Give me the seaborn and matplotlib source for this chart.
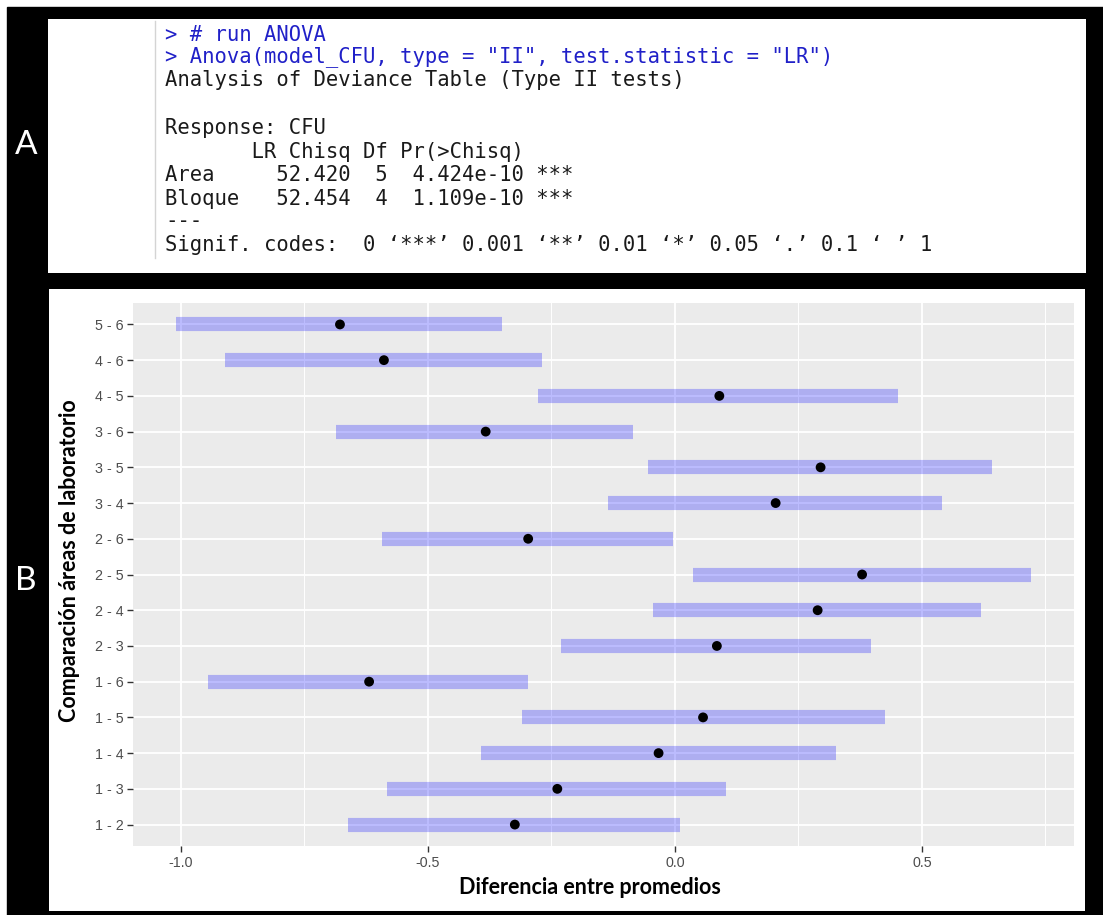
import matplotlib
matplotlib.use("Agg")
import matplotlib.pyplot as plt
from matplotlib.patches import Rectangle
import pandas as pd
import seaborn as sns

# Comparaciones de Tukey (de abajo hacia arriba, como en ggplot)
comparaciones = ["1 - 2", "1 - 3", "1 - 4", "1 - 5", "1 - 6",
                 "2 - 3", "2 - 4", "2 - 5", "2 - 6",
                 "3 - 4", "3 - 5", "3 - 6",
                 "4 - 5", "4 - 6", "5 - 6"]
diferencia = [-0.324, -0.238, -0.033, 0.057, -0.619,
              0.085, 0.289, 0.379, -0.297,
              0.204, 0.295, -0.383,
              0.090, -0.589, -0.678]
limite_inf = [-0.661, -0.582, -0.393, -0.310, -0.945,
              -0.231, -0.044, 0.036, -0.592,
              -0.135, -0.055, -0.686,
              -0.277, -0.910, -1.010]
limite_sup = [0.011, 0.103, 0.327, 0.425, -0.298,
              0.397, 0.620, 0.721, -0.003,
              0.541, 0.641, -0.084,
              0.452, -0.268, -0.350]

xticks = [-1.0, -0.5, 0.0, 0.5]
xticks_menores = [-0.75, -0.25, 0.25, 0.75]

# Salida de la consola de R
lineas_consola = [
    ("> # run ANOVA", "#2020C8", 35),
    ('> Anova(model_CFU, type = "II", test.statistic = "LR")', "#2020C8", 57),
    ("Analysis of Deviance Table (Type II tests)", "#1a1a1a", 80),
    ("Response: CFU", "#1a1a1a", 128),
    ("       LR Chisq Df Pr(>Chisq)", "#1a1a1a", 152),
    ("Area     52.420  5  4.424e-10 ***", "#1a1a1a", 175),
    ("Bloque   52.454  4  1.109e-10 ***", "#1a1a1a", 199),
    ("---", "#1a1a1a", 221),
    ("Signif. codes:  0 \u2018***\u2019 0.001 \u2018**\u2019 0.01 \u2018*\u2019 0.05 \u2018.\u2019 0.1 \u2018 \u2019 1", "#1a1a1a", 245),
]

df = pd.DataFrame({"comp": comparaciones, "diff": diferencia,
                   "lwr": limite_inf, "upr": limite_sup})

W, H = 1103, 915
fig = plt.figure(figsize=(W / 100, H / 100), dpi=100, facecolor="white")


def caja(x0, y0, x1, y1):
    # rect en pixeles (origen arriba a la izquierda) -> coords de figura
    return [x0 / W, 1 - y1 / H, (x1 - x0) / W, (y1 - y0) / H]


fig.add_artist(Rectangle((7 / W, 0), 1 - 7 / W, 1 - 7 / H,
                         transform=fig.transFigure, color="black", zorder=0))

# Panel A
axA = fig.add_axes(caja(48, 19, 1086, 273))
axA.set_facecolor("white")
axA.set_xlim(0, 1086 - 48)
axA.set_ylim(273 - 19, 0)
axA.set_xticks([])
axA.set_yticks([])
for s in axA.spines.values():
    s.set_visible(False)
axA.plot([155 - 48, 155 - 48], [2, 239], color="#d4d4d4", lw=1)
for texto, color, y in lineas_consola:
    axA.text(165 - 48, y - 19, texto, color=color, fontsize=14.8,
             family=["DejaVu Sans Mono"], va="center", ha="left")

# Panel B (fondo blanco)
axB_fondo = fig.add_axes(caja(49, 289, 1085, 911))
axB_fondo.set_facecolor("white")
axB_fondo.set_xticks([])
axB_fondo.set_yticks([])
for s in axB_fondo.spines.values():
    s.set_visible(False)

fig.text(26 / W, 1 - 145 / H, "A", color="white", fontsize=24,
         family=["Lato", "DejaVu Sans"], ha="center", va="center")
fig.text(26 / W, 1 - 581 / H, "B", color="white", fontsize=24,
         family=["Lato", "DejaVu Sans"], ha="center", va="center")

# Grafico de intervalos estilo ggplot
ax = fig.add_axes(caja(133, 303, 1074, 846))
ax.set_facecolor("#EBEBEB")
ax.hlines(y=df["comp"], xmin=df["lwr"], xmax=df["upr"],
          color=(0, 0, 1, 0.26), lw=10.2, zorder=2)
sns.scatterplot(data=df, x="diff", y="comp", color="black", s=50,
                edgecolor="none", ax=ax, zorder=3)

ax.set_xlim(-1.097, 0.808)
ax.set_ylim(-0.6, len(comparaciones) - 0.4)
ax.set_xticks(xticks)
ax.set_xticklabels([f"{t:.1f}" for t in xticks])
ax.set_xticks(xticks_menores, minor=True)
ax.grid(which="major", color="white", lw=1.3, zorder=0)
ax.grid(which="minor", axis="x", color="white", lw=0.7, zorder=0)
ax.set_axisbelow(True)
for s in ax.spines.values():
    s.set_visible(False)
ax.tick_params(axis="both", which="major", length=4, width=1, color="#333333",
               labelcolor="#4D4D4D", labelsize=10.3, pad=3)
ax.tick_params(which="minor", length=0)
for lab in ax.get_xticklabels() + ax.get_yticklabels():
    lab.set_family(["Liberation Sans", "DejaVu Sans"])
ax.set_xlabel("")
ax.set_ylabel("")

fig.text(590 / W, 1 - 888 / H, "Diferencia entre promedios", fontsize=15.5,
         fontweight="bold", family=["Lato", "DejaVu Sans"],
         ha="center", va="center")
fig.text(70 / W, 1 - 561 / H, "Comparaci\u00f3n \u00e1reas de laboratorio",
         fontsize=15.5, fontweight="bold", rotation=90,
         family=["Lato", "DejaVu Sans"], ha="center", va="center")

fig.savefig("out.png", dpi=100, facecolor=fig.get_facecolor())
